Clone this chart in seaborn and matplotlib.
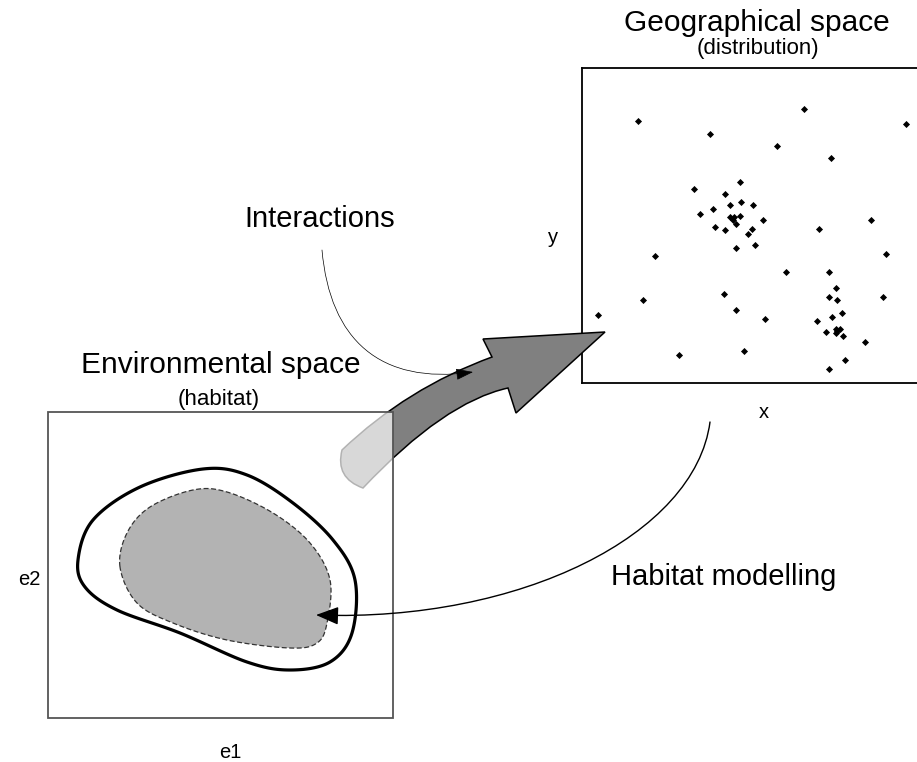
import numpy as np
import matplotlib
matplotlib.use("Agg")
import matplotlib.pyplot as plt
from matplotlib.patches import Rectangle, PathPatch, FancyArrowPatch, Polygon
from matplotlib.path import Path
import seaborn as sns

# occurrence points in geographical space (x, y in box units)
geo_x = [56, 222, 324, 128, 195, 249, 158, 112, 143, 148, 159, 171, 131, 118, 148, 152,
         158, 151, 154, 181, 133, 143, 170, 166, 289, 237, 154, 173, 73, 304, 204, 247,
         254, 247, 255, 301, 142, 61, 154, 16, 183, 260, 250, 235, 244, 254, 258, 254,
         255, 261, 283, 97, 162, 263, 247]
geo_y = [262, 274, 259, 249, 237, 225, 201, 194, 189, 178, 181, 178, 174, 169, 166, 166,
         167, 163, 159, 163, 156, 153, 154, 149, 163, 154, 135, 138, 127, 129, 111, 111,
         95, 86, 83, 86, 89, 83, 73, 68, 64, 70, 66, 62, 51, 54, 54, 50,
         52, 47, 41, 28, 32, 23, 14]

# niche outlines in environmental space (canvas pixels)
outer_niche = [(78, 560), (93, 520), (140, 487), (203, 469), (247, 475), (293, 503),
               (333, 540), (355, 580), (352, 633), (330, 662), (290, 670), (247, 662),
               (180, 633), (117, 610), (85, 587)]
inner_niche = [(120, 567), (127, 533), (150, 507), (193, 490), (227, 492), (273, 513),
               (310, 543), (330, 580), (327, 623), (317, 643), (290, 648), (227, 640),
               (173, 623), (137, 603)]

W, H = 917, 762


def closed_spline(pts, n=24):
    p = np.asarray(pts, dtype=float)
    out = []
    k = len(p)
    for i in range(k):
        p0, p1, p2, p3 = p[i - 1], p[i], p[(i + 1) % k], p[(i + 2) % k]
        for t in np.linspace(0, 1, n, endpoint=False):
            t2, t3 = t * t, t * t * t
            out.append(0.5 * ((2 * p1) + (-p0 + p2) * t
                              + (2 * p0 - 5 * p1 + 4 * p2 - p3) * t2
                              + (-p0 + 3 * p1 - 3 * p2 + p3) * t3))
    return np.array(out)


sns.set_theme(style="white")
plt.rcParams['font.family'] = ['Liberation Sans', 'DejaVu Sans']
plt.rcParams['text.color'] = 'black'

fig = plt.figure(figsize=(W / 100, H / 100), dpi=100)

# geographical space panel
gx0, gx1, gy0, gy1 = 582, 946, 68, 383
ax_geo = fig.add_axes([gx0 / W, 1 - gy1 / H, (gx1 - gx0) / W, (gy1 - gy0) / H], zorder=1)
sns.scatterplot(x=geo_x, y=geo_y, ax=ax_geo, color='black', s=13, marker='D', linewidth=0)
ax_geo.set_xlim(0, gx1 - gx0)
ax_geo.set_ylim(0, gy1 - gy0)
ax_geo.set_xticks([])
ax_geo.set_yticks([])
for sp in ax_geo.spines.values():
    sp.set_color('black')
    sp.set_linewidth(1.3)

# canvas for everything else, in pixel coordinates
ax = fig.add_axes([0, 0, 1, 1], zorder=2)
ax.set_xlim(0, W)
ax.set_ylim(H, 0)
ax.patch.set_alpha(0)
ax.axis('off')

# big curved arrow
arrow_verts = [(342, 450), (407, 388), (492, 357), (483, 339), (605, 332), (516, 413),
               (508, 388), (444, 402), (363, 488), (335, 478), (342, 450), (342, 450)]
arrow_codes = [Path.MOVETO, Path.CURVE3, Path.CURVE3, Path.LINETO, Path.LINETO, Path.LINETO,
               Path.LINETO, Path.CURVE3, Path.CURVE3, Path.CURVE3, Path.CURVE3, Path.CLOSEPOLY]
ax.add_patch(PathPatch(Path(arrow_verts, arrow_codes), facecolor='#808080',
                       edgecolor='black', linewidth=1.1, zorder=2))

# environmental space box (semi-opaque, hides the arrow tail)
ax.add_patch(Rectangle((48, 412), 345, 306, facecolor='white', alpha=0.7,
                       edgecolor='none', zorder=3))
ax.add_patch(Rectangle((48, 412), 345, 306, facecolor='none', edgecolor='#555555',
                       linewidth=1.3, zorder=5))

outer = closed_spline(outer_niche)
inner = closed_spline(inner_niche)
ax.add_patch(Polygon(inner, closed=True, facecolor='#b3b3b3', edgecolor='#333333',
                     linewidth=0.9, linestyle=(0, (4, 2)), zorder=4))
ax.add_patch(Polygon(outer, closed=True, facecolor='none', edgecolor='black',
                     linewidth=2.3, zorder=4))

# interactions arrow
p_int = Path([(322, 250), (330, 340), (380, 385), (473, 372)],
             [Path.MOVETO, Path.CURVE4, Path.CURVE4, Path.CURVE4])
ax.add_patch(FancyArrowPatch(path=p_int, arrowstyle='-|>,head_length=0.9,head_width=0.3',
                             mutation_scale=12, color='black', linewidth=0.5,
                             shrinkA=0, shrinkB=0, zorder=6))

# habitat modelling arrow
p_hab = Path([(710, 422), (695, 535), (520, 622), (316, 615)],
             [Path.MOVETO, Path.CURVE4, Path.CURVE4, Path.CURVE4])
ax.add_patch(FancyArrowPatch(path=p_hab, arrowstyle='-|>,head_length=1.0,head_width=0.4',
                             mutation_scale=14, color='black', linewidth=1.0,
                             shrinkA=0, shrinkB=0, zorder=6))

# labels
ax.text(757, 31, 'Geographical space', fontsize=21.5, ha='center', va='baseline')
ax.text(758, 54, '(distribution)', fontsize=16, ha='center', va='baseline')
ax.text(221, 373, 'Environmental space', fontsize=21.5, ha='center', va='baseline')
ax.text(219, 405, '(habitat)', fontsize=16, ha='center', va='baseline')
ax.text(320, 227, 'Interactions', fontsize=21, ha='center', va='baseline')
ax.text(724, 585, 'Habitat modelling', fontsize=21, ha='center', va='baseline')
ax.text(29, 585, 'e2', fontsize=14.5, ha='center', va='baseline')
ax.text(230, 758, 'e1', fontsize=14.5, ha='center', va='baseline')
ax.text(553, 243, 'y', fontsize=14.5, ha='center', va='baseline')
ax.text(764, 418, 'x', fontsize=14.5, ha='center', va='baseline')

fig.savefig('out.png', dpi=100)
